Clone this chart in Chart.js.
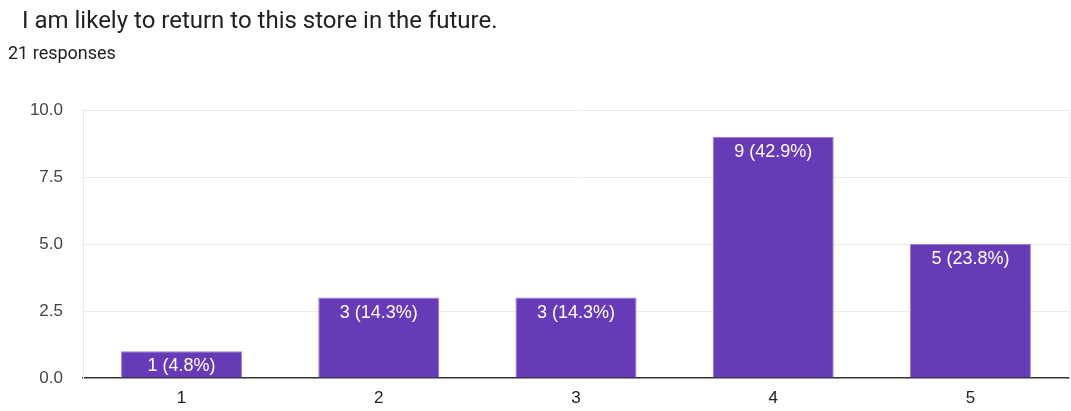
<!DOCTYPE html>
<html>
<head>
<meta charset="utf-8">
<script src="https://cdn.jsdelivr.net/npm/chart.js@4.4.0/dist/chart.umd.min.js"></script>
<style>
  html, body { margin:0; padding:0; background:#fff; }
  #wrap { position:relative; width:1071px; height:411px; overflow:hidden; }
  #title { position:absolute; left:22px; top:6px; font-family:Roboto, "Liberation Sans", sans-serif; font-size:24px; line-height:28px; color:#202124; white-space:nowrap; }
  #sub { position:absolute; left:8px; top:44px; font-family:Roboto, "Liberation Sans", sans-serif; font-size:18px; line-height:18px; color:#202124; white-space:nowrap; }
  #c { position:absolute; left:0; top:0; }
</style>
</head>
<body>
<div id="wrap">
  <canvas id="c" width="1071" height="411"></canvas>
  <div id="title">I am likely to return to this store in the future.</div>
  <div id="sub">21 responses</div>
</div>
<script>
const categories = ['1', '2', '3', '4', '5'];
const counts = [1, 3, 3, 9, 5];
const totalResponses = 21;
const yTicks = [0, 2.5, 5, 7.5, 10];

const barLabels = {
  id: 'barLabels',
  afterDatasetsDraw(chart) {
    const ctx = chart.ctx;
    const meta = chart.getDatasetMeta(0);
    ctx.save();
    ctx.fillStyle = '#ffffff';
    ctx.font = '18px "Liberation Sans", Arial, sans-serif';
    ctx.textAlign = 'center';
    ctx.textBaseline = 'middle';
    meta.data.forEach((bar, i) => {
      const v = counts[i];
      const pct = (v / totalResponses * 100).toFixed(1);
      ctx.fillText(v + ' (' + pct + '%)', bar.x, bar.y + 15);
    });
    ctx.restore();
  }
};

const rightBorder = {
  id: 'rightBorder',
  beforeDatasetsDraw(chart) {
    const { ctx, chartArea } = chart;
    ctx.save();
    ctx.strokeStyle = '#ececec';
    ctx.lineWidth = 1;
    ctx.beginPath();
    ctx.moveTo(chartArea.right + 0.5, chartArea.top);
    ctx.lineTo(chartArea.right + 0.5, chartArea.bottom);
    ctx.stroke();
    ctx.restore();
  }
};

new Chart(document.getElementById('c'), {
  type: 'bar',
  data: {
    labels: categories,
    datasets: [{
      data: counts,
      backgroundColor: '#673ab7',
      borderColor: '#9c7fd1',
      borderWidth: 1,
      categoryPercentage: 1,
      barPercentage: 0.614
    }]
  },
  options: {
    responsive: false,
    animation: false,
    layout: { padding: { left: 0, right: 2, top: 110, bottom: 0 } },
    plugins: { legend: { display: false }, tooltip: { enabled: false } },
    scales: {
      x: {
        grid: { display: false, drawTicks: false },
        border: { display: true, color: '#333333', width: 1.5 },
        ticks: { color: '#222222', font: { family: '"Liberation Sans", Arial, sans-serif', size: 17 }, padding: 10 },
        afterFit(s) { s.height = 33; }
      },
      y: {
        min: 0, max: 10,
        afterBuildTicks(s) { s.ticks = yTicks.map(v => ({ value: v })); },
        grid: { color: (c) => c.tick && c.tick.value === 0 ? 'rgba(0,0,0,0)' : '#ebebeb', drawTicks: false, lineWidth: 1 },
        border: { display: true, color: '#ebebeb', width: 1 },
        ticks: {
          color: '#444444',
          font: { family: '"Liberation Sans", Arial, sans-serif', size: 17 },
          padding: 20,
          callback: (v) => Number(v).toFixed(1)
        },
        afterFit(s) { s.width = 83; }
      }
    }
  },
  plugins: [barLabels, rightBorder]
});
</script>
</body>
</html>
